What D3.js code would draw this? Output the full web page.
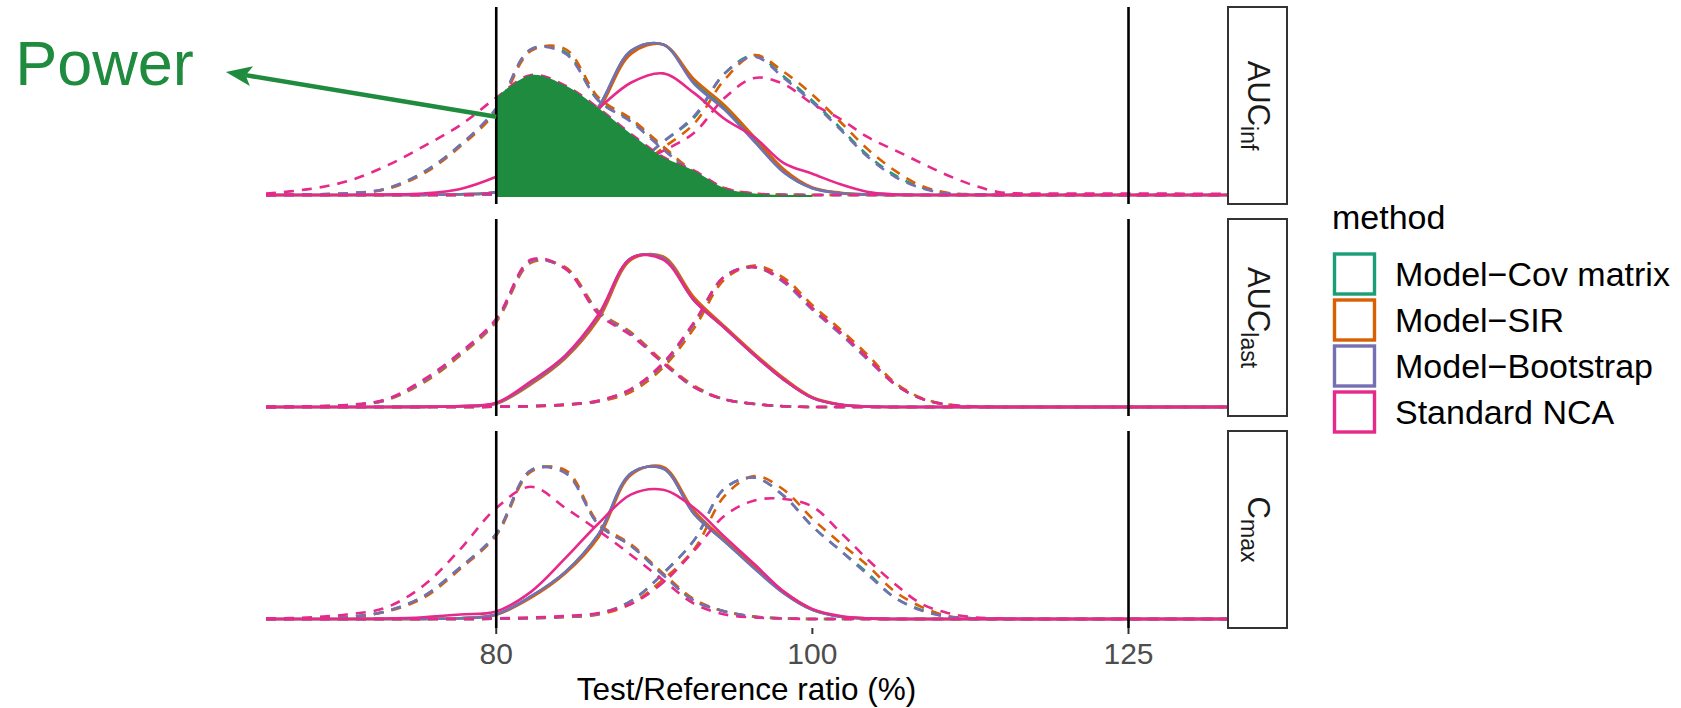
<!DOCTYPE html>
<html>
<head>
<meta charset="utf-8" />
<script src="https://d3js.org/d3.v7.min.js"></script>
<style>
  body { margin: 0; background: #fff; }
  text { font-family: "Liberation Sans", Arial, Helvetica, sans-serif; }
</style>
</head>
<body>
<svg id="chart" width="1681" height="708"></svg>
<script>
// methods and colours (Dark2)
const methods = ["Model\u2212Cov matrix", "Model\u2212SIR", "Model\u2212Bootstrap", "Standard NCA"];
const methodColors = ["#1B9E77", "#D95F02", "#7570B3", "#E7298A"];

// facets
const stripMain = ["AUC", "AUC", "C"];
const stripSub = ["inf", "last", "max"];

// x values (%) at which the densities were read
const ratioGrid = [68, 70, 72, 74, 76, 78, 80, 82, 84, 86, 88, 90, 92, 94, 96, 98, 100, 102, 104, 106, 108, 110, 112, 114, 116, 120, 134];
const xTicks = [80, 100, 125];
const beLimits = [80, 125];

// densities, one row per method (Cov, SIR, Bootstrap, NCA)
// low = dashed around 83, mid = solid around 89, high = dashed around 96
const aucinfLow = [
  [0, .004, .01, .04, .15, .33, .56, .96, .94, .62, .49, .31, .14, .04, .008, .002, 0, 0, 0, 0, 0, 0, 0, 0, 0, 0, 0],
  [0, .004, .01, .038, .14, .32, .55, .95, .96, .64, .50, .32, .15, .045, .01, .002, 0, 0, 0, 0, 0, 0, 0, 0, 0, 0, 0],
  [0, .004, .011, .042, .15, .33, .57, .96, .93, .62, .48, .30, .14, .04, .008, .002, 0, 0, 0, 0, 0, 0, 0, 0, 0, 0, 0],
  [.01, .037, .09, .19, .32, .46, .64, .79, .72, .57, .40, .25, .16, .045, .01, 0, 0, 0, 0, 0, 0, 0, 0, 0, 0, 0, 0]
];
const aucinfMid = [
  [0, 0, 0, 0, .001, .005, .02, .12, .30, .58, .95, .99, .74, .57, .36, .15, .045, .013, .003, 0, 0, 0, 0, 0, 0, 0, 0],
  [0, 0, 0, 0, .001, .005, .02, .11, .29, .56, .93, .99, .76, .59, .38, .17, .05, .015, .003, 0, 0, 0, 0, 0, 0, 0, 0],
  [0, 0, 0, 0, .001, .005, .02, .12, .30, .58, .95, .99, .73, .56, .35, .15, .045, .012, .003, 0, 0, 0, 0, 0, 0, 0, 0],
  [0, 0, 0, .003, .01, .04, .12, .23, .38, .57, .74, .80, .67, .50, .38, .21, .14, .07, .02, .005, 0, 0, 0, 0, 0, 0, 0]
];
const aucinfHigh = [
  [0, 0, 0, 0, 0, 0, .003, .008, .02, .07, .18, .35, .51, .80, .92, .78, .62, .44, .26, .13, .05, .012, .003, 0, 0, 0, 0],
  [0, 0, 0, 0, 0, 0, .003, .007, .018, .06, .16, .31, .47, .76, .92, .81, .66, .48, .30, .16, .06, .015, .004, 0, 0, 0, 0],
  [0, 0, 0, 0, 0, 0, .003, .008, .02, .07, .18, .35, .52, .80, .91, .77, .61, .43, .25, .12, .045, .011, .003, 0, 0, 0, 0],
  [0, 0, 0, 0, 0, 0, .01, .02, .04, .09, .19, .29, .41, .64, .77, .73, .60, .50, .38, .295, .21, .13, .065, .02, .01, .01, .008]
];

const auclastLow = [
  [0, .003, .012, .046, .17, .35, .57, .96, .91, .62, .48, .29, .13, .05, .02, .005, 0, 0, 0, 0, 0, 0, 0, 0, 0, 0, 0],
  [0, .003, .011, .044, .16, .34, .56, .95, .92, .63, .49, .30, .14, .05, .02, .005, 0, 0, 0, 0, 0, 0, 0, 0, 0, 0, 0],
  [0, .003, .012, .046, .17, .35, .57, .96, .91, .62, .48, .29, .13, .05, .02, .005, 0, 0, 0, 0, 0, 0, 0, 0, 0, 0, 0],
  [0, .004, .013, .05, .18, .36, .58, .97, .91, .61, .47, .29, .13, .05, .02, .005, 0, 0, 0, 0, 0, 0, 0, 0, 0, 0, 0]
];
const auclastMid = [
  [0, 0, 0, 0, .001, .005, .025, .16, .33, .60, .98, .98, .70, .52, .34, .18, .06, .015, .003, 0, 0, 0, 0, 0, 0, 0, 0],
  [0, 0, 0, 0, .001, .005, .022, .15, .32, .58, .97, .99, .72, .53, .35, .19, .065, .017, .003, 0, 0, 0, 0, 0, 0, 0, 0],
  [0, 0, 0, 0, .001, .005, .025, .16, .33, .60, .98, .98, .70, .52, .34, .18, .06, .015, .003, 0, 0, 0, 0, 0, 0, 0, 0],
  [0, 0, 0, 0, .001, .006, .028, .17, .34, .61, .98, .97, .70, .52, .34, .18, .06, .015, .003, 0, 0, 0, 0, 0, 0, 0, 0]
];
const auclastHigh = [
  [0, 0, 0, 0, 0, 0, .002, .006, .015, .04, .115, .28, .55, .86, .92, .83, .65, .49, .32, .15, .055, .015, .003, 0, 0, 0, 0],
  [0, 0, 0, 0, 0, 0, .002, .005, .013, .036, .10, .26, .52, .84, .93, .85, .67, .51, .34, .16, .06, .017, .004, 0, 0, 0, 0],
  [0, 0, 0, 0, 0, 0, .002, .006, .015, .04, .115, .28, .55, .86, .92, .82, .64, .48, .31, .15, .055, .015, .003, 0, 0, 0, 0],
  [0, 0, 0, 0, 0, 0, .002, .006, .016, .042, .12, .29, .56, .86, .92, .83, .65, .49, .32, .15, .055, .015, .003, 0, 0, 0, 0]
];

const cmaxLow = [
  [0, .003, .012, .05, .15, .34, .56, .98, .97, .62, .48, .29, .12, .05, .015, .004, 0, 0, 0, 0, 0, 0, 0, 0, 0, 0, 0],
  [0, .003, .011, .048, .14, .33, .55, .97, .98, .63, .49, .30, .13, .05, .016, .004, 0, 0, 0, 0, 0, 0, 0, 0, 0, 0, 0],
  [0, .003, .012, .05, .15, .34, .56, .98, .96, .62, .48, .29, .12, .05, .015, .004, 0, 0, 0, 0, 0, 0, 0, 0, 0, 0, 0],
  [.003, .01, .03, .075, .22, .46, .73, .87, .73, .58, .42, .255, .10, .03, .01, .003, 0, 0, 0, 0, 0, 0, 0, 0, 0, 0, 0]
];
const cmaxMid = [
  [0, 0, 0, 0, .001, .005, .03, .15, .31, .56, .96, .99, .69, .51, .34, .17, .06, .015, .003, 0, 0, 0, 0, 0, 0, 0, 0],
  [0, 0, 0, 0, .001, .005, .028, .14, .30, .54, .95, 1.0, .71, .52, .35, .18, .065, .017, .004, 0, 0, 0, 0, 0, 0, 0, 0],
  [0, 0, 0, 0, .001, .005, .03, .15, .31, .56, .96, .99, .69, .51, .33, .17, .06, .015, .003, 0, 0, 0, 0, 0, 0, 0, 0],
  [0, 0, 0, .003, .012, .03, .05, .18, .40, .63, .82, .85, .73, .54, .36, .18, .065, .02, .004, 0, 0, 0, 0, 0, 0, 0, 0]
];
const cmaxHigh = [
  [0, 0, 0, 0, 0, 0, .002, .006, .015, .035, .12, .30, .52, .86, .93, .81, .61, .45, .30, .14, .06, .015, .004, 0, 0, 0, 0],
  [0, 0, 0, 0, 0, 0, .002, .005, .012, .03, .10, .26, .46, .81, .94, .85, .66, .50, .35, .18, .08, .02, .005, 0, 0, 0, 0],
  [0, 0, 0, 0, 0, 0, .002, .006, .015, .035, .12, .30, .52, .86, .93, .81, .61, .45, .29, .14, .055, .015, .004, 0, 0, 0, 0],
  [0, 0, 0, 0, 0, 0, .004, .01, .02, .04, .10, .24, .45, .68, .78, .79, .74, .57, .39, .23, .10, .04, .012, .004, 0, 0, 0]
];

const panelSeries = [
  [aucinfLow, aucinfMid, aucinfHigh],
  [auclastLow, auclastMid, auclastHigh],
  [cmaxLow, cmaxMid, cmaxHigh]
];
const scenarioDashed = [true, false, true];

// "Power" annotation: arrow from (ratio, density) in the AUCinf panel
const powerArrowFrom = [80, 0.515];
const powerArrowTo = [66.1, 0.81];

// ---- layout
const svg = d3.select("#chart");
const green = "#1f8b3f";
const panelLeft = 266, panelRight = 1227;
const panelHeight = 197, panelStep = 212, firstTop = 7;
const stripX = 1228, stripW = 59;

const x = d3.scaleLog().domain([68, 134]).range([panelLeft, panelRight]);

const curve = d3.curveCatmullRom.alpha(0.5);

panelSeries.forEach((series, p) => {
  const top = firstTop + p * panelStep;
  const y = d3.scaleLinear().domain([0, 1]).range([top + 188, top + 36]);

  const clipId = "clip" + p;
  svg.append("clipPath").attr("id", clipId)
    .append("rect")
    .attr("x", panelLeft).attr("y", top)
    .attr("width", panelRight - panelLeft).attr("height", panelHeight);

  const g = svg.append("g").attr("clip-path", `url(#${clipId})`);
  const line = d3.line().x(d => x(d[0])).y(d => y(d[1])).curve(curve);

  methods.forEach((m, mi) => {
    series.forEach((scen, si) => {
      const pts = ratioGrid.map((r, k) => [r, scen[mi][k]]);
      g.append("path")
        .attr("d", line(pts))
        .attr("fill", "none")
        .attr("stroke", methodColors[mi])
        .attr("stroke-width", 2.6)
        .attr("stroke-dasharray", scenarioDashed[si] ? "10,8" : null);
    });
  });

  // power shading: NCA low-ratio density inside the limit, AUCinf only
  if (p === 0) {
    const nca = series[0][3];
    const pts = ratioGrid.map((r, k) => [r, nca[k]]).filter(d => d[0] >= beLimits[0] && d[0] <= 100);
    g.append("path")
      .attr("d", d3.area().x(d => x(d[0])).y0(y(0) + 2).y1(d => y(d[1])).curve(curve)(pts))
      .attr("fill", green);
  }

  // reference lines at 80 and 125
  svg.append("g").selectAll("line").data(beLimits).join("line")
    .attr("x1", d => x(d)).attr("x2", d => x(d))
    .attr("y1", top).attr("y2", top + panelHeight)
    .attr("stroke", "#000").attr("stroke-width", 2.6);

  // strip
  svg.append("rect")
    .attr("x", stripX).attr("y", top)
    .attr("width", stripW).attr("height", panelHeight)
    .attr("fill", "#fff").attr("stroke", "#333").attr("stroke-width", 2);
  const st = svg.append("text")
    .attr("transform", `translate(${stripX + 20},${top + panelHeight / 2}) rotate(90)`)
    .attr("text-anchor", "middle")
    .attr("fill", "#1a1a1a");
  st.append("tspan").attr("font-size", 31).text(stripMain[p]);
  st.append("tspan").attr("font-size", 23).attr("dy", 7).text(stripSub[p]);

  // arrow + label for power
  if (p === 0) {
    const x0 = x(powerArrowFrom[0]), y0 = y(powerArrowFrom[1]);
    const x1 = x(powerArrowTo[0]), y1 = y(powerArrowTo[1]);
    const len = Math.hypot(x1 - x0, y1 - y0);
    const ux = (x1 - x0) / len, uy = (y1 - y0) / len;
    const px = -uy, py = ux;
    const headLen = 26, headW = 10, notch = 20;
    svg.append("line")
      .attr("x1", x0).attr("y1", y0)
      .attr("x2", x1 - ux * notch).attr("y2", y1 - uy * notch)
      .attr("stroke", green).attr("stroke-width", 4.5);
    const bx = x1 - ux * headLen, by = y1 - uy * headLen;
    const nx = x1 - ux * notch, ny = y1 - uy * notch;
    svg.append("path")
      .attr("d", `M${x1},${y1}L${bx + px * headW},${by + py * headW}L${nx},${ny}L${bx - px * headW},${by - py * headW}Z`)
      .attr("fill", green);
    svg.append("text")
      .attr("x", x1 - 32).attr("y", 85)
      .attr("text-anchor", "end")
      .attr("font-size", 63)
      .attr("fill", green)
      .text("Power");
  }
});

// x axis under the last panel
const axisTop = firstTop + 2 * panelStep + panelHeight;
const axis = svg.append("g");
axis.selectAll("line").data(xTicks).join("line")
  .attr("x1", d => x(d)).attr("x2", d => x(d))
  .attr("y1", axisTop).attr("y2", axisTop + 6)
  .attr("stroke", "#333").attr("stroke-width", 2);
axis.selectAll("text").data(xTicks).join("text")
  .attr("x", d => x(d)).attr("y", axisTop + 36)
  .attr("text-anchor", "middle")
  .attr("font-size", 30)
  .attr("fill", "#4d4d4d")
  .text(d => d);
svg.append("text")
  .attr("x", (panelLeft + panelRight) / 2).attr("y", 700)
  .attr("text-anchor", "middle")
  .attr("font-size", 31.5)
  .attr("fill", "#000")
  .text("Test/Reference ratio (%)");

// legend
const legend = svg.append("g").attr("transform", "translate(1332,0)");
legend.append("text").attr("x", 0).attr("y", 229)
  .attr("font-size", 34).attr("fill", "#000").text("method");
const items = legend.selectAll("g.item").data(methods).join("g")
  .attr("class", "item")
  .attr("transform", (d, i) => `translate(0,${252 + i * 46})`);
items.append("rect")
  .attr("x", 2.5).attr("y", 2).attr("width", 40).attr("height", 40)
  .attr("fill", "#fff")
  .attr("stroke", (d, i) => methodColors[i])
  .attr("stroke-width", 3.4);
items.append("text")
  .attr("x", 63).attr("y", 34)
  .attr("font-size", 34).attr("fill", "#000")
  .text(d => d);
</script>
</body>
</html>
